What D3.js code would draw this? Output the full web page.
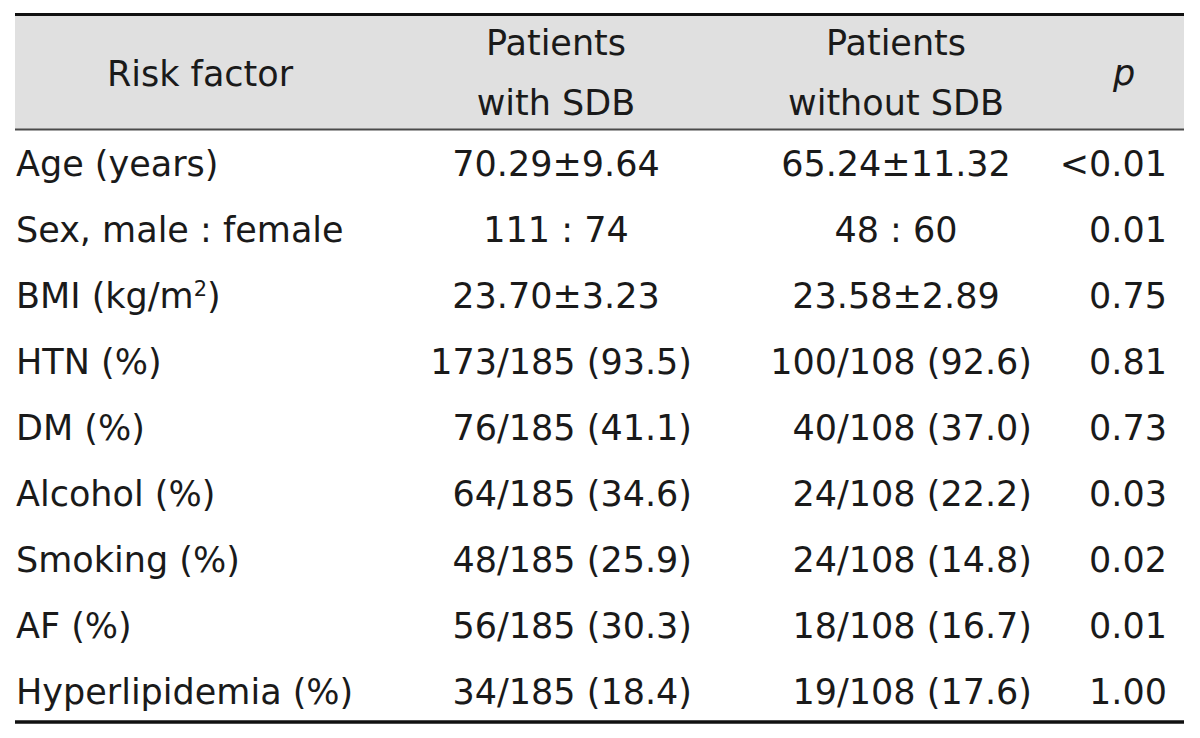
<!DOCTYPE html>
<html>
<head>
<meta charset="utf-8">
<script src="https://cdn.jsdelivr.net/npm/d3@7"></script>
<style>
  html, body { margin: 0; padding: 0; background: #ffffff; }
  svg { display: block; }
  text { font-family: "DejaVu Sans", sans-serif; fill: #1a1a1a; }
</style>
</head>
<body>
<svg id="chart" width="1200" height="738"></svg>
<script>
// ---- data ----
const headerRisk = "Risk factor";
const headerWith = ["Patients", "with SDB"];
const headerWithout = ["Patients", "without SDB"];
const headerP = "p";

const riskFactors = [
  "Age (years)",
  "Sex, male : female",
  "BMI (kg/m^2)",
  "HTN (%)",
  "DM (%)",
  "Alcohol (%)",
  "Smoking (%)",
  "AF (%)",
  "Hyperlipidemia (%)"
];
const withSDB = [
  "70.29\u00b19.64",
  "111 : 74",
  "23.70\u00b13.23",
  "173/185 (93.5)",
  "76/185 (41.1)",
  "64/185 (34.6)",
  "48/185 (25.9)",
  "56/185 (30.3)",
  "34/185 (18.4)"
];
const withoutSDB = [
  "65.24\u00b111.32",
  "48 : 60",
  "23.58\u00b12.89",
  "100/108 (92.6)",
  "40/108 (37.0)",
  "24/108 (22.2)",
  "24/108 (14.8)",
  "18/108 (16.7)",
  "19/108 (17.6)"
];
const pValues = ["<0.01", "0.01", "0.75", "0.81", "0.73", "0.03", "0.02", "0.01", "1.00"];
// alignment of group cells: centred for mean±SD / ratio rows, right for counts
const cellAlign = ["c", "c", "c", "r", "r", "r", "r", "r", "r"];

// ---- layout ----
const W = 1200, H = 738;
const left = 15, right = 1184;
const fontSize = 35;
const svg = d3.select("#chart");

const rows = d3.scaleBand().domain(d3.range(riskFactors.length)).range([131, 724]).padding(0);
const baseline = i => rows(i) + rows.bandwidth() / 2 + 12.5;

const col = {
  riskLeft: 16, riskCenter: 200,
  withCenter: 556, withRight: 692,
  withoutCenter: 896, withoutRight: 1032,
  pCenter: 1124, pRight: 1167
};

// header background
svg.append("rect")
  .attr("x", left).attr("y", 14.5)
  .attr("width", right - left).attr("height", 129.5 - 14.5)
  .attr("fill", "#e0e0e0");

// rules
svg.append("line").attr("x1", left).attr("x2", right).attr("y1", 14.5).attr("y2", 14.5)
  .attr("stroke", "#111").attr("stroke-width", 3);
svg.append("line").attr("x1", left).attr("x2", right).attr("y1", 129.5).attr("y2", 129.5)
  .attr("stroke", "#4a4a4a").attr("stroke-width", 2);
svg.append("line").attr("x1", left).attr("x2", right).attr("y1", 722).attr("y2", 722)
  .attr("stroke", "#111").attr("stroke-width", 3.5);

// header text
const hdr = svg.append("g").attr("font-size", fontSize);
hdr.append("text").attr("x", col.riskCenter).attr("y", 86).attr("text-anchor", "middle").text(headerRisk);
headerWith.forEach((t, k) => hdr.append("text").attr("x", col.withCenter).attr("y", 55 + k * 60)
  .attr("text-anchor", "middle").text(t));
headerWithout.forEach((t, k) => hdr.append("text").attr("x", col.withoutCenter).attr("y", 55 + k * 60)
  .attr("text-anchor", "middle").text(t));
hdr.append("text").attr("x", col.pCenter).attr("y", 85).attr("text-anchor", "middle")
  .attr("font-style", "italic").text(headerP);

// body
const body = svg.append("g").attr("font-size", fontSize);
const rowG = body.selectAll("g.row").data(d3.range(riskFactors.length)).join("g").attr("class", "row");

rowG.each(function (i) {
  const g = d3.select(this);
  const y = baseline(i);
  // risk factor label (supports ^ superscript)
  const lab = g.append("text").attr("x", col.riskLeft).attr("y", y).attr("text-anchor", "start");
  const parts = riskFactors[i].split("^");
  if (parts.length === 1) {
    lab.text(parts[0]);
  } else {
    lab.append("tspan").text(parts[0]);
    const sup = parts[1].charAt(0);
    lab.append("tspan").attr("dy", -12).attr("font-size", fontSize * 0.6).text(sup);
    lab.append("tspan").attr("dy", 12).text(parts[1].slice(1));
  }
  const a = cellAlign[i];
  g.append("text")
    .attr("x", a === "c" ? col.withCenter : col.withRight)
    .attr("y", y).attr("text-anchor", a === "c" ? "middle" : "end")
    .text(withSDB[i]);
  g.append("text")
    .attr("x", a === "c" ? col.withoutCenter : col.withoutRight)
    .attr("y", y).attr("text-anchor", a === "c" ? "middle" : "end")
    .text(withoutSDB[i]);
  g.append("text").attr("x", col.pRight).attr("y", y).attr("text-anchor", "end").text(pValues[i]);
});
</script>
</body>
</html>
